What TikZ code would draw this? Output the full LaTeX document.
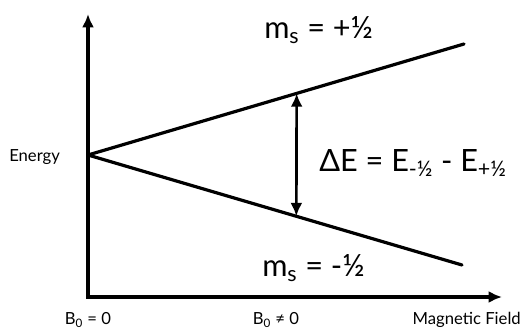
\documentclass[tikz,border=0pt]{standalone}
\usepackage{fontspec}
\setmainfont{Lato}
\usetikzlibrary{arrows.meta, positioning, calc}

\begin{document}
\begin{tikzpicture}[x=0.75pt, y=-0.75pt, >={Latex[length=10pt,width=9pt]},
    level/.style={line width=2.4pt, line cap=round},
    axis/.style={line width=2.4pt, ->},
    big/.style={font=\fontsize{23}{26}\selectfont, inner sep=0pt, anchor=west},
    small/.style={font=\fontsize{12.5}{14}\selectfont, inner sep=0pt}]
    \useasboundingbox (0,0) rectangle (531,331);
    % 1. Axes
    \coordinate (origin) at (88,297);
    \coordinate (ytop) at (88,14);
    \coordinate (xend) at (502,297);
    \draw[axis, line cap=rect] (origin) -- (ytop);
    \draw[axis] (origin) -- (xend);
    % 2. Zeeman splitting of the two levels
    \coordinate (split) at (88,155);
    \coordinate (upper) at (464,44);
    \coordinate (lower) at (462,265);
    \draw[level] (split) -- (upper);
    \draw[level] (split) -- (lower);
    % 3. Energy gap
    \coordinate (gaptop) at ($(split)!0.555!(upper)$);
    \coordinate (gapbot) at ($(split)!0.557!(lower)$);
    \draw[line width=2pt, <->] (gaptop) -- (gapbot);
    % Level labels
    \node[big] (msup) at (264,30) {m\textsubscript{s} = +½};
    \node[big] (dE) at (319,163) {ΔE = E\textsubscript{-½} - E\textsubscript{+½}};
    \node[big] (msdown) at (262,268) {m\textsubscript{s} = -½};
    % 4. Axis labels
    \node[small, anchor=west] (energy) at (9,157) {Energy};
    \node[small] (bzero) at (88,320) {B\textsubscript{0} = 0};
    \node[small] (bnonzero) at (276,320) {B\textsubscript{0} ≠ 0};
    \node[small, anchor=east] (field) at (521,320) {Magnetic Field};
\end{tikzpicture}
\end{document}
